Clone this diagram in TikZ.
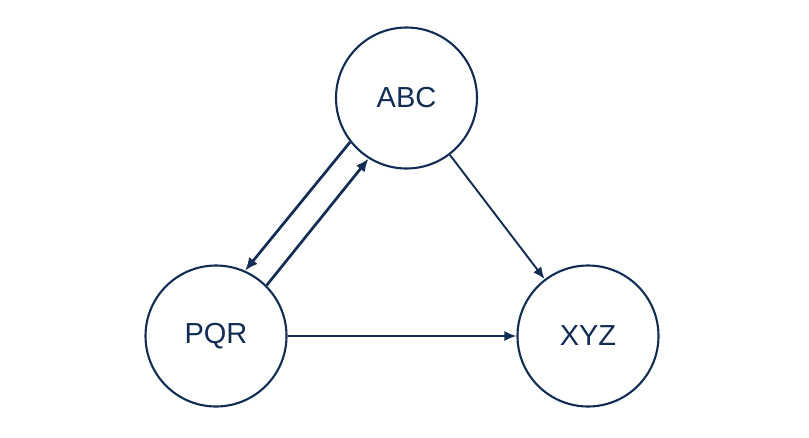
\documentclass[tikz,border=0pt]{standalone}
\usepackage{fontspec}
\setmainfont{Liberation Sans}
\usetikzlibrary{arrows.meta}
\definecolor{navy}{RGB}{18,44,84}
\begin{document}
\begin{tikzpicture}[x=1pt,y=-1pt,
  state/.style={circle,draw=navy,line width=2.1pt,minimum size=141pt,inner sep=0pt,text=navy,font=\fontsize{29}{32}\selectfont},
  conn/.style={draw=navy,line width=1.9pt,-{Latex[length=12pt,width=10pt]}},
  thick conn/.style={draw=navy,line width=2.7pt,-{Latex[length=13pt,width=11pt]}}]
\useasboundingbox (0,0) rectangle (809,437);
\node[state] (abc) at (406.5,98) {ABC};
\node[state] (pqr) at (216,336) {PQR};
\node[state] (xyz) at (588,336) {XYZ};
\draw[conn] (abc) -- (xyz);
\draw[conn] (pqr) -- (xyz);
\draw[thick conn] (abc.218) -- (pqr.66);
\draw[thick conn] (pqr.45.5) -- (abc.238.6);
\end{tikzpicture}
\end{document}
